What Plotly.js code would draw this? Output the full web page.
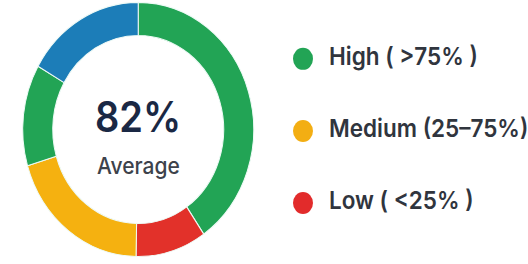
<!DOCTYPE html>
<html>
<head>
<meta charset="utf-8">
<script src="https://cdn.plot.ly/plotly-3.0.1.min.js"></script>
<style>
html,body{margin:0;padding:0;background:#fff;}
#wrap{width:528px;height:264px;position:relative;overflow:hidden;}
#chart{width:528px;height:240px;position:absolute;left:0;top:0;transform:scaleY(1.1);transform-origin:0 0;}
</style>
</head>
<body>
<div id="wrap"><div id="chart"></div></div>
<script>
// Donut segments, clockwise from 12 o'clock
const segmentNames = ["High A", "Low", "Medium", "High B", "Other"];
const segmentValues = [40.4, 9.9, 20.1, 12.9, 16.7];
const segmentColors = ["#22A455", "#E2312A", "#F5B110", "#22A455", "#1C7DB8"];

// Center label
const centerValue = "82%";
const centerLabel = "Average";

// Legend
const legendLabels = ["High ( >75% )", "Medium (25\u201375%)", "Low ( <25% )"];
const legendColors = ["#22A455", "#F3AE13", "#E22B2B"];

const W = 528, H = 240;
const cx = 138.2, cy = 117.7, R = 115.5;

const pie = {
  type: "pie",
  values: segmentValues,
  labels: segmentNames,
  sort: false,
  direction: "clockwise",
  rotation: 0,
  hole: 0.74,
  textinfo: "none",
  hoverinfo: "none",
  showlegend: false,
  marker: {colors: segmentColors, line: {color: "#eefaf6", width: 1}},
  domain: {x: [(cx - R) / W, (cx + R) / W], y: [(H - cy - R) / H, (H - cy + R) / H]}
};

const legendMarkers = {
  type: "scatter",
  mode: "markers",
  x: legendLabels.map(() => 39),
  y: legendLabels,
  marker: {size: 20, color: legendColors},
  hoverinfo: "none",
  showlegend: false
};
const legendText = {
  type: "scatter",
  mode: "text",
  x: legendLabels.map(() => 65),
  y: legendLabels,
  text: legendLabels,
  textposition: "middle right",
  textfont: {family: "Inter, sans-serif", size: 22.5, weight: 600, color: "#30353e"},
  hoverinfo: "none",
  showlegend: false
};

const layout = {
  width: W, height: H,
  margin: {l: 0, r: 0, t: 0, b: 0},
  paper_bgcolor: "#ffffff",
  plot_bgcolor: "rgba(0,0,0,0)",
  showlegend: false,
  xaxis: {domain: [0.5, 1], range: [0, 264], visible: false, fixedrange: true},
  yaxis: {type: "category", categoryorder: "array", categoryarray: legendLabels.slice().reverse(),
          range: [-0.847, 2.817], visible: false, fixedrange: true},
  annotations: [
    {text: centerValue, x: cx / W, y: 1 - 106 / H, xref: "paper", yref: "paper",
     showarrow: false, font: {family: "Inter, sans-serif", size: 38, weight: 600, color: "#1a2844"},
     xanchor: "center", yanchor: "middle"},
    {text: centerLabel, x: cx / W, y: 1 - 150.5 / H, xref: "paper", yref: "paper",
     showarrow: false, font: {family: "Inter, sans-serif", size: 21, weight: 500, color: "#3d424b"},
     xanchor: "center", yanchor: "middle"}
  ]
};

Plotly.newPlot("chart", [pie, legendMarkers, legendText], layout, {displayModeBar: false, staticPlot: true});
</script>
</body>
</html>
